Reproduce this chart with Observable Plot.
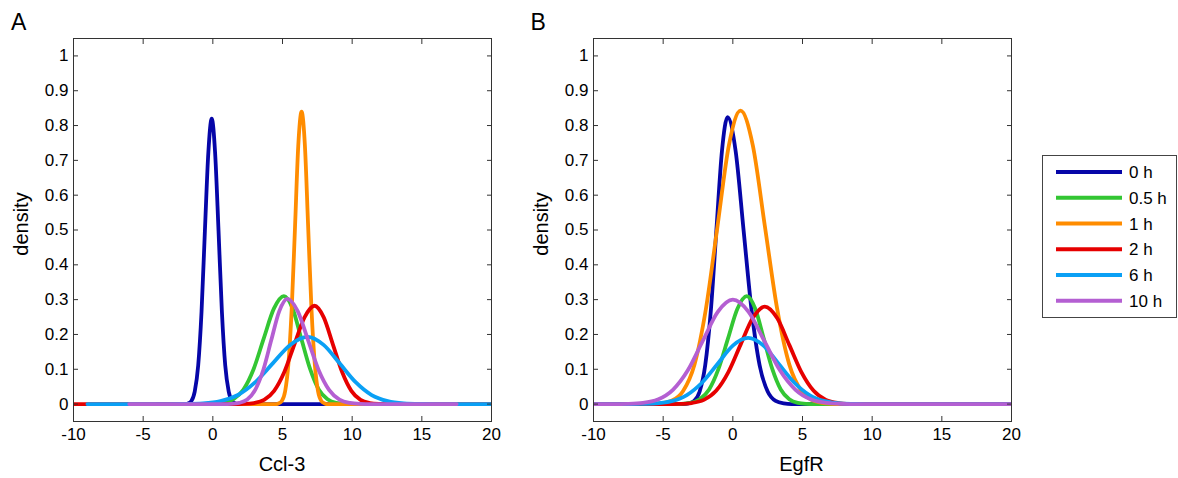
<!DOCTYPE html>
<html>
<head>
<meta charset="utf-8">
<script src="https://cdn.jsdelivr.net/npm/d3@7"></script>
<script src="https://cdn.jsdelivr.net/npm/@observablehq/plot@0.6"></script>
<style>
  html, body { margin: 0; padding: 0; background: #fff; }
  #fig { position: relative; width: 1178px; height: 478px; overflow: hidden; background: #fff;
         font-family: "Liberation Sans", Arial, Helvetica, sans-serif; }
  .pan { position: absolute; top: 0; }
  #overlay { position: absolute; left: 0; top: 0; pointer-events: none; }
</style>
</head>
<body>
<div id="fig"></div>
<script>
// ---------- data ----------
const seriesNames  = ["0 h", "0.5 h", "1 h", "2 h", "6 h", "10 h"];
const seriesColors = ["#0606a8", "#33c633", "#ff8c00", "#e60000", "#0aa0f5", "#b45fd2"];
const xTicks = [-10, -5, 0, 5, 10, 15, 20];
const yTicks = [0, 0.1, 0.2, 0.3, 0.4, 0.5, 0.6, 0.7, 0.8, 0.9, 1];
const panelTitles = ["A", "B"];
const xLabels = ["Ccl-3", "EgfR"];
const yLabel = "density";

// Panel A: Ccl-3 densities, [x, density] points
const ccl3_0h  = [[-4,0],[-2.02,0],[-1.78,0.002],[-1.54,0.009],[-1.30,0.036],[-1.05,0.111],[-0.81,0.266],[-0.57,0.497],[-0.32,0.724],[-0.08,0.82],[0.16,0.724],[0.41,0.497],[0.65,0.266],[0.89,0.111],[1.14,0.036],[1.38,0.009],[1.62,0.002],[1.86,0],[9,0]];
const ccl3_05h = [[-3,0],[-0.70,0],[0.03,0.0007],[0.75,0.0034],[1.48,0.014],[2.20,0.042],[2.93,0.101],[3.65,0.188],[4.38,0.274],[5.10,0.31],[5.73,0.274],[6.35,0.188],[6.98,0.101],[7.60,0.042],[8.23,0.014],[8.85,0.0034],[9.48,0.0007],[10.10,0],[13,0]];
const ccl3_1h  = [[2,0],[4.48,0],[4.71,0.002],[4.95,0.009],[5.19,0.037],[5.42,0.114],[5.66,0.273],[5.90,0.51],[6.13,0.741],[6.37,0.84],[6.61,0.741],[6.84,0.51],[7.08,0.273],[7.32,0.114],[7.55,0.037],[7.79,0.009],[8.03,0.002],[8.26,0],[12,0]];
const ccl3_2h  = [[-10,0],[1.50,0],[2.23,0.0006],[2.95,0.0031],[3.68,0.012],[4.40,0.038],[5.13,0.092],[5.85,0.171],[6.58,0.249],[7.30,0.2825],[7.96,0.249],[8.62,0.171],[9.28,0.092],[9.94,0.038],[10.60,0.012],[11.26,0.0031],[11.92,0.0006],[12.58,0],[20,0]];
const ccl3_6h  = [[-9,0],[-3.2,0],[-1.95,0.0004],[-0.7,0.0021],[0.55,0.0085],[1.8,0.026],[3.05,0.063],[4.3,0.117],[5.55,0.170],[6.8,0.193],[7.95,0.170],[9.1,0.117],[10.25,0.063],[11.4,0.026],[12.55,0.0085],[13.7,0.0021],[14.85,0.0004],[16.0,0],[20,0]];
const ccl3_10h = [[-6,0],[0.74,0],[1.32,0.0007],[1.89,0.0034],[2.47,0.013],[3.04,0.041],[3.62,0.098],[4.19,0.183],[4.77,0.267],[5.34,0.302],[6.09,0.267],[6.84,0.183],[7.59,0.098],[8.34,0.041],[9.09,0.013],[9.84,0.0034],[10.59,0.0007],[11.34,0],[17.5,0]];

// Panel B: EgfR densities, [x, density] points
const egfr_0h  = [[-10,0],[-3.58,0],[-3.18,0.0018],[-2.78,0.009],[-2.38,0.036],[-1.98,0.112],[-1.58,0.268],[-1.18,0.50],[-0.78,0.727],[-0.38,0.824],[0.20,0.727],[0.77,0.50],[1.35,0.268],[1.92,0.112],[2.50,0.036],[3.07,0.009],[3.65,0.0018],[4.22,0],[20,0]];
const egfr_05h = [[-10,0],[-4.40,0],[-3.73,0.0007],[-3.05,0.0034],[-2.38,0.014],[-1.70,0.042],[-1.03,0.101],[-0.35,0.188],[0.33,0.274],[1.0,0.31],[1.61,0.274],[2.22,0.188],[2.83,0.101],[3.44,0.042],[4.05,0.014],[4.66,0.0034],[5.27,0.0007],[5.88,0],[20,0]];
const egfr_1h  = [[-10,0],[-6.05,0],[-5.23,0.0019],[-4.40,0.0094],[-3.58,0.037],[-2.75,0.114],[-1.93,0.274],[-1.10,0.511],[-0.28,0.744],[0.55,0.843],[1.43,0.744],[2.30,0.511],[3.18,0.274],[4.05,0.114],[4.93,0.037],[5.80,0.0094],[6.68,0.0019],[7.55,0],[20,0]];
const egfr_2h  = [[-10,0],[-4.70,0],[-3.83,0.0006],[-2.95,0.0031],[-2.08,0.012],[-1.20,0.038],[-0.33,0.091],[0.55,0.170],[1.43,0.247],[2.30,0.28],[3.18,0.247],[4.05,0.170],[4.93,0.091],[5.80,0.038],[6.68,0.012],[7.55,0.0031],[8.43,0.0006],[9.30,0],[20,0]];
const egfr_6h  = [[-10,0],[-7.7,0],[-6.6,0.0004],[-5.5,0.0021],[-4.4,0.0083],[-3.3,0.026],[-2.2,0.062],[-1.1,0.115],[0.0,0.168],[1.1,0.19],[2.2,0.168],[3.3,0.115],[4.4,0.062],[5.5,0.026],[6.6,0.0083],[7.7,0.0021],[8.8,0.0004],[9.9,0],[20,0]];
const egfr_10h = [[-10,0],[-8.6,0],[-7.53,0.0007],[-6.45,0.0033],[-5.38,0.013],[-4.30,0.041],[-3.23,0.097],[-2.15,0.182],[-1.08,0.265],[0,0.30],[1.13,0.265],[2.25,0.182],[3.38,0.097],[4.5,0.041],[5.63,0.013],[6.75,0.0033],[7.88,0.0007],[9.0,0],[20,0]];

const panelSeries = [
  [ccl3_0h, ccl3_05h, ccl3_1h, ccl3_2h, ccl3_6h, ccl3_10h],
  [egfr_0h, egfr_05h, egfr_1h, egfr_2h, egfr_6h, egfr_10h]
];

// ---------- drawing ----------
const FONT = '"Liberation Sans", Arial, Helvetica, sans-serif';
const AXIS = "#333";
const TICKFONT = 17;
const fig = document.getElementById("fig");
const fmt = d => String(+(+d).toFixed(1));

function makePanel(series) {
  const rows = series.flatMap((pts, i) => pts.map(([x, y]) => ({series: seriesNames[i], x, y})));
  return Plot.plot({
    width: 501, height: 478,
    marginLeft: 73, marginRight: 10, marginTop: 38, marginBottom: 57,
    style: {fontFamily: FONT, fontSize: TICKFONT + "px", color: "#000", background: "transparent", overflow: "visible"},
    x: {domain: [-10, 20], label: null},
    y: {domain: [-0.05, 1.05], label: null},
    color: {domain: seriesNames, range: seriesColors},
    marks: [
      Plot.line(rows, {x: "x", y: "y", z: "series", stroke: "series", strokeWidth: 3.8,
                       curve: "monotone-x", clip: true, strokeLinejoin: "round"}),
      Plot.frame({stroke: AXIS, strokeWidth: 1}),
      Plot.axisX(xTicks, {anchor: "bottom", tickSize: -5, tickPadding: 11, tickFormat: fmt, label: null,
                          stroke: AXIS, fill: "#000", fontSize: TICKFONT}),
      Plot.axisX(xTicks, {anchor: "top", tickSize: -5, tickFormat: () => "", label: null, stroke: AXIS}),
      Plot.axisY(yTicks, {anchor: "left", tickSize: -5, tickPadding: 10, tickFormat: fmt, label: null,
                          stroke: AXIS, fill: "#000", fontSize: TICKFONT}),
      Plot.axisY(yTicks, {anchor: "right", tickSize: -5, tickFormat: () => "", label: null, stroke: AXIS})
    ]
  });
}

const panelLefts = [0, 519.5];
panelSeries.forEach((series, p) => {
  const el = makePanel(series);
  el.classList.add("pan");
  el.style.left = panelLefts[p] + "px";
  fig.appendChild(el);
});

// overlay for titles, axis labels and legend
const svg = d3.select(fig).append("svg")
  .attr("id", "overlay").attr("width", 1178).attr("height", 478)
  .style("font-family", FONT);

panelTitles.forEach((t, p) => {
  const off = panelLefts[p];
  svg.append("text").attr("x", 11 + off).attr("y", 29.5)
    .attr("font-size", 23).text(t);
  svg.append("text").attr("x", 282 + off).attr("y", 471)
    .attr("font-size", 20).attr("text-anchor", "middle").text(xLabels[p]);
  svg.append("text").attr("transform", `translate(${28 + off},224) rotate(-90)`)
    .attr("font-size", 20).attr("text-anchor", "middle").text(yLabel);
});

// legend
const lg = svg.append("g");
lg.append("rect").attr("x", 1042.5).attr("y", 155.5).attr("width", 134).attr("height", 162)
  .attr("fill", "#fff").attr("stroke", "#444").attr("stroke-width", 1);
seriesNames.forEach((name, i) => {
  const cy = 172 + i * 25.75;
  lg.append("line").attr("x1", 1056).attr("x2", 1122).attr("y1", cy).attr("y2", cy)
    .attr("stroke", seriesColors[i]).attr("stroke-width", 4);
  lg.append("text").attr("x", 1129).attr("y", cy + 6).attr("font-size", 17).text(name);
});
</script>
</body>
</html>
